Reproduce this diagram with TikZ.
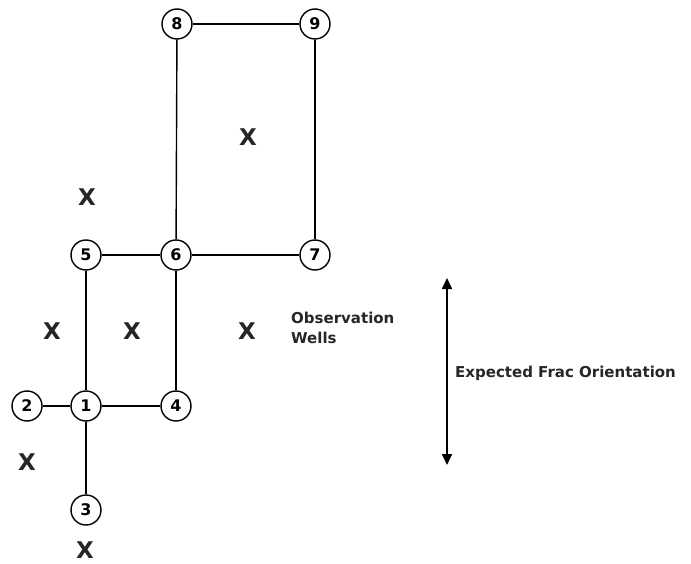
\documentclass[tikz,border=0pt]{standalone}
\usepackage{fontspec}
\setmainfont{DejaVu Sans}
\usetikzlibrary{arrows.meta}
\tikzset{
  well/.style={circle, draw, line width=1.4pt, minimum size=30pt, inner sep=0pt,
    font=\fontsize{16}{16}\selectfont\bfseries},
  link/.style={line width=1.4pt},
  obs/.style={inner sep=0pt, font=\fontsize{23}{23}\selectfont\bfseries, text=black!85},
  lbl/.style={inner sep=0pt, font=\fontsize{15}{20}\selectfont\bfseries, text=black!85},
}
\begin{document}
\begin{tikzpicture}[x=1pt,y=-1pt]
\useasboundingbox (0,0) rectangle (691,564);
\node[well] (n8) at (177,24) {8};
\node[well] (n9) at (315,24) {9};
\node[well] (n5) at (86,255) {5};
\node[well] (n6) at (176,255) {6};
\node[well] (n7) at (315,255) {7};
\node[well] (n2) at (27,406) {2};
\node[well] (n1) at (86,406) {1};
\node[well] (n4) at (176,406) {4};
\node[well] (n3) at (86,510) {3};
\draw[link] (n8) -- (n9);
\draw[link] (n8) -- (n6);
\draw[link] (n9) -- (n7);
\draw[link] (n5) -- (n6);
\draw[link] (n6) -- (n7);
\draw[link] (n5) -- (n1);
\draw[link] (n6) -- (n4);
\draw[link] (n2) -- (n1);
\draw[link] (n1) -- (n4);
\draw[link] (n1) -- (n3);
\node[obs] (x1) at (248,137) {X};
\node[obs] (x2) at (87,197) {X};
\node[obs] (x3) at (52,331) {X};
\node[obs] (x4) at (132,331) {X};
\node[obs] (x5) at (247,331) {X};
\node[obs] (x6) at (27,462) {X};
\node[obs] (x7) at (85,550) {X};
\node[lbl, anchor=base west, align=left] (ow) at (291,343) {Observation\\Wells};
\coordinate (atop) at (447,278);
\coordinate (abot) at (447,465);
\draw[line width=1.6pt, {Triangle[width=10pt,length=11pt]}-{Triangle[width=10pt,length=11pt]}] (atop) -- (abot);
\node[lbl, anchor=base west] (efo) at (455,377) {Expected Frac Orientation};
\end{tikzpicture}
\end{document}
